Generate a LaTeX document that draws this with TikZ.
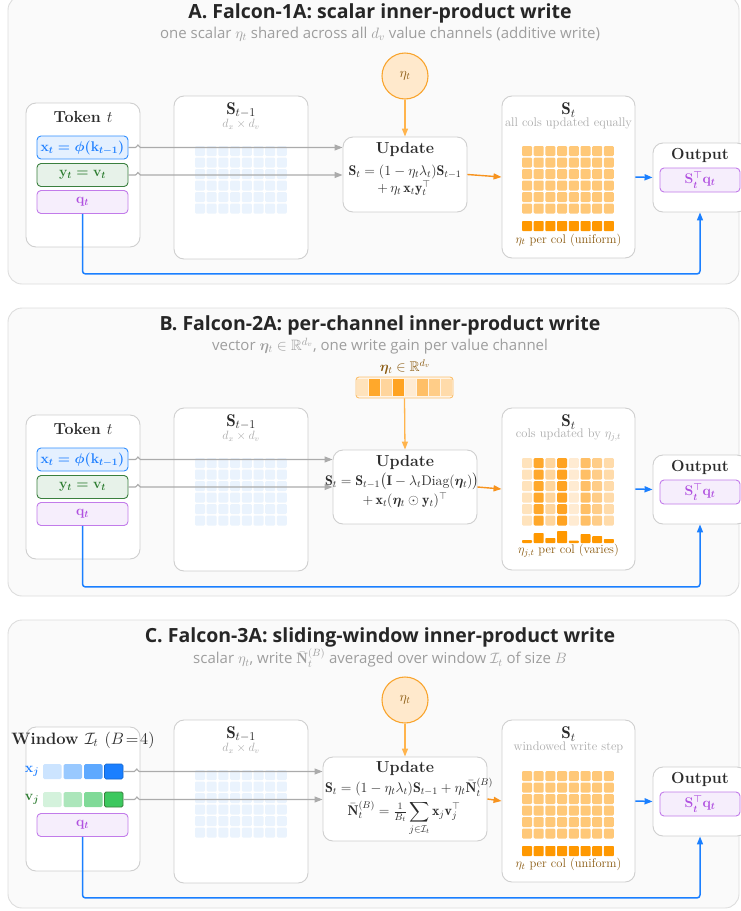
\RequirePackage{fix-cm}
\documentclass[tikz,border=0pt]{standalone}
\usepackage{amsmath,amssymb,bm}
\usepackage{fontspec}
\newfontfamily\headfont{Open Sans}
\usetikzlibrary{arrows.meta}

\definecolor{panelfill}{HTML}{FAFAFA}
\definecolor{panelline}{HTML}{DDDDDD}
\definecolor{boxline}{HTML}{CFCFCF}
\definecolor{arrowgray}{HTML}{ABABAB}
\definecolor{headtext}{HTML}{262626}
\definecolor{subtext}{HTML}{9E9E9E}
\definecolor{darktext}{HTML}{2B2B2B}
\definecolor{dimtext}{HTML}{ABABAB}
\definecolor{labelbrown}{HTML}{8A5A10}
\definecolor{xtext}{HTML}{1E7FFF}
\definecolor{xfill}{HTML}{E4F0FF}
\definecolor{xline}{HTML}{2F8EFF}
\definecolor{ytext}{HTML}{2E7D32}
\definecolor{yfill}{HTML}{E7F2E9}
\definecolor{yline}{HTML}{3A7F3E}
\definecolor{qtext}{HTML}{B050E0}
\definecolor{qfill}{HTML}{F6EEFC}
\definecolor{qline}{HTML}{C27BEA}
\definecolor{etafill}{HTML}{FFE9CC}
\definecolor{etaline}{HTML}{F9A52F}
\definecolor{etaarrow}{HTML}{FFB44D}
\definecolor{orangearrow}{HTML}{F7931E}
\definecolor{outblue}{HTML}{1A7FFF}
\definecolor{gridblue}{HTML}{EAF3FD}
\definecolor{gridorange}{HTML}{FFC878}
\definecolor{barorange}{HTML}{FF9800}
% window cells
\definecolor{xa}{HTML}{CCE4FF}\definecolor{xb}{HTML}{99C9FF}
\definecolor{xc}{HTML}{5EA9FF}\definecolor{xd}{HTML}{1A7FFF}
\definecolor{va}{HTML}{D4F2DC}\definecolor{vb}{HTML}{ACE6BB}
\definecolor{vc}{HTML}{80DA98}\definecolor{vd}{HTML}{3CC85E}
% per-channel gains
\definecolor{ea}{HTML}{FFE3BC}\definecolor{eb}{HTML}{FFA82B}
\definecolor{ec}{HTML}{FFD59C}\definecolor{ed}{HTML}{FFA322}
\definecolor{ee}{HTML}{FFEBD2}\definecolor{ef}{HTML}{FFBF66}
\definecolor{eg}{HTML}{FFCD88}\definecolor{eh}{HTML}{FFDBAA}

\tikzset{
  panel/.style={draw=panelline, fill=panelfill, line width=0.9pt, rounded corners=14pt},
  card/.style={draw=boxline, fill=white, line width=0.9pt, rounded corners=10pt, inner sep=0pt},
  headline/.style={font=\headfont\bfseries\fontsize{19.5}{22}\selectfont, text=headtext, inner sep=0pt},
  subline/.style={font=\headfont\fontsize{15}{17}\selectfont, text=subtext, inner sep=0pt},
  cardtitle/.style={font=\fontsize{16}{18}\selectfont\bfseries, text=darktext, inner sep=0pt},
  cardhead/.style={font=\fontsize{17}{19}\selectfont, text=darktext, inner sep=0pt},
  dimlab/.style={font=\fontsize{12}{13}\selectfont, text=dimtext, inner sep=0pt},
  note/.style={font=\fontsize{12.5}{14}\selectfont, text=dimtext, inner sep=0pt},
  pernote/.style={font=\fontsize{12.5}{14}\selectfont, text=labelbrown, inner sep=0pt},
  eqn/.style={font=\fontsize{14}{16}\selectfont, text=darktext, inner sep=0pt},
  vecbox/.style={rounded corners=4pt, line width=0.9pt, minimum width=91pt, minimum height=23pt,
    inner sep=0pt, font=\fontsize{14}{16}\selectfont\boldmath},
  xbox/.style={vecbox, draw=xline, fill=xfill, text=xtext},
  ybox/.style={vecbox, draw=yline, fill=yfill, text=ytext},
  qbox/.style={vecbox, draw=qline, fill=qfill, text=qtext},
  wcell/.style={rectangle, rounded corners=1.5pt, minimum width=18.5pt, minimum height=15pt, inner sep=0pt},
  gaincell/.style={rectangle, minimum width=10.5pt, minimum height=17pt, inner sep=0pt},
  etacirc/.style={circle, draw=etaline, fill=etafill, line width=1.1pt, minimum size=46pt,
    inner sep=0pt, text=labelbrown, font=\fontsize{14}{16}\selectfont},
  feed/.style={draw=arrowgray, line width=1.1pt, -{Triangle[length=8pt,width=6pt]}},
  gainline/.style={draw=etaarrow, line width=1.3pt, -{Triangle[length=8pt,width=6pt]}},
  writeline/.style={draw=orangearrow, line width=1.4pt, -{Triangle[length=8pt,width=6pt]}},
  readline/.style={draw=outblue, line width=1.5pt, rounded corners=3pt, -{Triangle[length=8pt,width=6pt]}},
}

% 8x6 state matrix cells
\newcommand\stategrid[3]{%
  \foreach \gi in {0,...,7}{\foreach \gj in {0,...,5}{%
    \fill[#3, rounded corners=1.2pt] ({#1+11.7*\gi},{#2+11.5*\gj}) rectangle ++(10,10);}}}
% uniform gain bars under the state
\newcommand\gainbars[2]{%
  \foreach \gi in {0,...,7}{%
    \fill[barorange, rounded corners=0.8pt] ({#1+11.7*\gi},#2) rectangle ++(10,10);}}
% input feed with a small hop over the card border
\newcommand\feedarrow[3]{%
  \draw[feed] (#1.east) -- ++(#3,0) .. controls +(1.5,0) and +(-1,0) .. ++(2.5,-2.5)
    .. controls +(1,0) and +(-1.5,0) .. ++(2.5,2.5) -- (#1.east -| #2.west);}

% frame, titles, previous state, new state and output card
\newcommand\panelbase[3]{%
  \draw[panel] (8,-4) rectangle (739,284);
  \node[headline] (title) at (380,13) {#1};
  \node[subline] (sub) at (380,34) {#2};
  \node[card, minimum width=134pt, minimum height=163pt] (prev) at (241,177.5) {};
  \node[cardhead] (prevlab) at (241,110) {$\mathbf{S}_{t-1}$};
  \node[dimlab] (prevdim) at (241,124) {$d_x\times d_v$};
  \stategrid{195}{146}{gridblue}
  \node[card, minimum width=133pt, minimum height=162pt] (st) at (568.5,177) {};
  \node[cardhead] (stlab) at (568.5,110) {$\mathbf{S}_t$};
  \node[note] (stnote) at (568.5,123) {#3};
  \node[card, minimum width=94pt, minimum height=69pt] (out) at (700,177.5) {};
  \node[cardtitle] (outlab) at (700,155) {Output};
  \node[qbox, minimum width=80pt, minimum height=24pt] (read) at (700,180) {$\mathbf{S}_t^{\top}\mathbf{q}_t$};
  \draw[readline] (st.east) -- (out.west);}

% token card with x, y, q
\newcommand\tokencard{%
  \node[card, minimum width=114pt, minimum height=144pt] (tok) at (83,175) {};
  \node[cardtitle] (toklab) at (83,117) {Token $t$};
  \node[xbox] (x) at (82.5,147.5) {$\mathbf{x}_t=\phi(\mathbf{k}_{t-1})$};
  \node[ybox] (y) at (82.5,175) {$\mathbf{y}_t=\mathbf{v}_t$};
  \node[qbox] (q) at (82.5,202) {$\mathbf{q}_t$};}

\begin{document}
\begin{tikzpicture}[x=1pt,y=-1pt]
\useasboundingbox (0,0) rectangle (740,911);

% ---------------- A: scalar write ----------------
\begin{scope}[name prefix=A-]
  \panelbase{A.\ Falcon-1A: scalar inner-product write}
    {one scalar $\eta_t$ shared across all $d_v$ value channels (additive write)}
    {all cols updated equally}
  \tokencard
  \node[card, minimum width=124pt, minimum height=75pt] (upd) at (405,174.5) {};
  \node[cardtitle] (updlab) at (405,149) {Update};
  \node[eqn] (eq1) at (405,172) {$\mathbf{S}_t=(1-\eta_t\lambda_t)\mathbf{S}_{t-1}$};
  \node[eqn] (eq2) at (404,188) {$+\,\eta_t\,\mathbf{x}_t\mathbf{y}_t^{\top}$};
  \node[etacirc] (eta) at (405,76) {$\eta_t$};
  \stategrid{522}{146}{gridorange}
  \gainbars{522}{221}
  \node[pernote] (per) at (568.5,240) {$\eta_t$ per col (uniform)};
  \feedarrow{x}{upd}{7}
  \feedarrow{y}{upd}{7}
  \draw[gainline] (eta.south) -- (upd.north);
  \draw[writeline] (upd.east) -- (st.west);
  \draw[readline] (q.south) -- ++(0,60) -| (out.south);
\end{scope}

% ---------------- B: per-channel write ----------------
\begin{scope}[shift={(0,312)}, name prefix=B-]
  \panelbase{B.\ Falcon-2A: per-channel inner-product write}
    {vector $\bm{\eta}_t\in\mathbb{R}^{d_v}$, one write gain per value channel}
    {cols updated by $\eta_{j,t}$}
  \tokencard
  \node[card, minimum width=144pt, minimum height=74pt] (upd) at (405,175) {};
  \node[cardtitle] (updlab) at (405,150) {Update};
  \node[eqn] (eq1) at (402,169.5) {$\mathbf{S}_t=\mathbf{S}_{t-1}\big(\mathbf{I}-\lambda_t\mathrm{Diag}(\bm{\eta}_t)\big)$};
  \node[eqn] (eq2) at (405,188.5) {$+\,\mathbf{x}_t(\bm{\eta}_t\odot\mathbf{y}_t)^{\top}$};
  \node[pernote, font=\fontsize{14}{16}\selectfont] (etalab) at (405,55) {$\bm{\eta}_t\in\mathbb{R}^{d_v}$};
  \node[rectangle, draw=etaline!70, fill=etafill!50, line width=0.9pt, rounded corners=3pt,
    minimum width=97pt, minimum height=21pt, inner sep=0pt] (etav) at (404.5,75.5) {};
  \foreach \gi/\gc in {0/ea,1/eb,2/ec,3/ed,4/ee,5/ef,6/eg,7/eh}{%
    \node[gaincell, fill=\gc] (g\gi) at ({362.3+12.05*\gi},75.5) {};}
  \foreach \gi/\gc/\gh in {0/ea/3,1/eb/10,2/ec/5,3/ed/12,4/ee/2.5,5/ef/9,6/eg/7,7/eh/4}{%
    \foreach \gj in {0,...,5}{%
      \fill[\gc, rounded corners=1.2pt] ({522+11.7*\gi},{146+11.5*\gj}) rectangle ++(10,10);}
    \fill[barorange, rounded corners=0.8pt] ({522+11.7*\gi},231) rectangle ++(10,-\gh);}
  \node[pernote] (per) at (568.5,239) {$\eta_{j,t}$ per col (varies)};
  \feedarrow{x}{upd}{7}
  \feedarrow{y}{upd}{7}
  \draw[gainline] (etav.south) -- (upd.north);
  \draw[writeline] (upd.east) -- (st.west);
  \draw[readline] (q.south) -- ++(0,61) -| (out.south);
\end{scope}

% ---------------- C: sliding-window write ----------------
\begin{scope}[shift={(0,624)}, name prefix=C-]
  \panelbase{C.\ Falcon-3A: sliding-window inner-product write}
    {scalar $\eta_t$, write $\bar{\mathbf{N}}_t^{(B)}$ averaged over window $\mathcal{I}_t$ of size $B$}
    {windowed write step}
  \node[card, minimum width=114pt, minimum height=144pt] (tok) at (83,175) {};
  \node[cardtitle, font=\fontsize{16.5}{18}\selectfont\bfseries] (toklab) at (83,116) {Window $\mathcal{I}_t$ $(B\!=\!4)$};
  \node[font=\fontsize{14}{16}\selectfont\boldmath, text=xtext, inner sep=0pt] (xl) at (32,147.5) {$\mathbf{x}_j$};
  \node[font=\fontsize{14}{16}\selectfont\boldmath, text=ytext, inner sep=0pt] (vl) at (32,175.5) {$\mathbf{v}_j$};
  \foreach \gi/\gc in {1/xa,2/xb,3/xc}{\node[wcell, fill=\gc] (xc\gi) at ({31.75+20.5*\gi},147.5) {};}
  \node[wcell, fill=xd, draw=xd!80!black, line width=0.6pt] (xc4) at (113.75,147.5) {};
  \foreach \gi/\gc in {1/va,2/vb,3/vc}{\node[wcell, fill=\gc] (vc\gi) at ({31.75+20.5*\gi},175.5) {};}
  \node[wcell, fill=vd, draw=yline, line width=0.9pt] (vc4) at (113.75,175.5) {};
  \node[qbox] (q) at (82.5,201) {$\mathbf{q}_t$};
  \node[card, minimum width=164pt, minimum height=84pt] (upd) at (405,175) {};
  \node[cardtitle] (updlab) at (405,144) {Update};
  \node[eqn] (eq1) at (409,163) {$\mathbf{S}_t=(1-\eta_t\lambda_t)\mathbf{S}_{t-1}+\eta_t\bar{\mathbf{N}}_t^{(B)}$};
  \node[eqn] (eq2) at (404,194) {$\bar{\mathbf{N}}_t^{(B)}=\frac{1}{B_t}\displaystyle\sum_{j\in\mathcal{I}_t}\mathbf{x}_j\mathbf{v}_j^{\top}$};
  \node[etacirc] (eta) at (405,76) {$\eta_t$};
  \stategrid{522}{147}{gridorange}
  \gainbars{522}{222}
  \node[pernote] (per) at (568.5,240) {$\eta_t$ per col (uniform)};
  \feedarrow{xc4}{upd}{11}
  \feedarrow{vc4}{upd}{11}
  \draw[gainline] (eta.south) -- (upd.north);
  \draw[writeline] (upd.east) -- (st.west);
  \draw[readline] (q.south) -- ++(0,61) -| (out.south);
\end{scope}
\end{tikzpicture}
\end{document}
